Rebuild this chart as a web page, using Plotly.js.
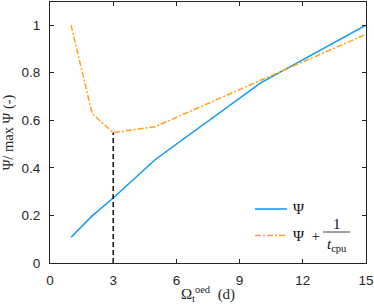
<!DOCTYPE html>
<html>
<head>
<meta charset="utf-8">
<script src="https://cdn.plot.ly/plotly-3.0.1.min.js"></script>
<style>html,body{margin:0;padding:0;background:#fff;}#chart{width:374px;height:307px;}</style>
</head>
<body>
<div id="chart"></div>
<script>
// Data
const days = [1, 2, 3, 5, 10, 15];
const psiNorm = [0.108, 0.198, 0.273, 0.435, 0.757, 1.0];
const psiPlusCpu = [1.0, 0.628, 0.548, 0.573, 0.768, 0.961];
const optimumDay = 3;
const xTicks = [0, 3, 6, 9, 12, 15];
const yTicks = [0, 0.2, 0.4, 0.6, 0.8, 1];
const yTickLabels = ['0', '0.2', '0.4', '0.6', '0.8', '1'];

const blue = '#0d99ef';
const orange = '#ffa31a';
const serif = 'Liberation Serif, Times New Roman, serif';
const sans = 'Liberation Sans, Arial, sans-serif';

const optIdx = days.indexOf(optimumDay);

const traces = [
  {x: days, y: psiNorm, mode: 'lines', line: {color: blue, width: 1.5}, showlegend: false, hoverinfo: 'skip'},
  {x: days, y: psiPlusCpu, mode: 'lines', line: {color: orange, width: 1.5, dash: '6px,2px,2px,2px'}, showlegend: false, hoverinfo: 'skip'},
  {x: [optimumDay, optimumDay], y: [0, psiPlusCpu[optIdx]], mode: 'lines', line: {color: '#111', width: 1.5, dash: '5px,3px'}, showlegend: false, hoverinfo: 'skip'}
];

// legend drawn in pixel-like paper coords
const W = 374, H = 307, L = 50, R = 8, T = 2, B = 44;
const pw = W - L - R, ph = H - T - B;
const px = v => (v - L) / pw;
const py = v => (H - B - v) / ph;

const layout = {
  width: W, height: H,
  margin: {l: L, r: R, t: T, b: B, pad: 0},
  paper_bgcolor: '#fff', plot_bgcolor: '#fff',
  xaxis: {
    range: [0, 15], tickvals: xTicks, ticktext: xTicks.map(String),
    ticks: 'inside', ticklen: 4, tickcolor: '#262626', tickwidth: 1,
    showline: true, mirror: 'ticks', linecolor: '#262626', linewidth: 1,
    showgrid: false, zeroline: false, ticklabelstandoff: 5,
    tickfont: {family: sans, size: 13.5, color: '#262626'},
    title: {text: 'Ω<sub>t</sub><sup>oed</sup>  (d)', font: {family: serif, size: 15, color: '#262626'}, standoff: 1}
  },
  yaxis: {
    range: [0, 1.097], tickvals: yTicks, ticktext: yTickLabels,
    ticks: 'inside', ticklen: 4, tickcolor: '#262626', tickwidth: 1,
    showline: true, mirror: 'ticks', linecolor: '#262626', linewidth: 1,
    showgrid: false, zeroline: false, ticklabelstandoff: 6,
    tickfont: {family: sans, size: 13.5, color: '#262626'},
    title: {text: 'Ψ/ max Ψ (-)', font: {family: serif, size: 14.5, color: '#262626'}, standoff: 4}
  },
  shapes: [
    {type: 'line', xref: 'paper', yref: 'paper', x0: px(255), x1: px(287), y0: py(209), y1: py(209), line: {color: blue, width: 1.5}},
    {type: 'line', xref: 'paper', yref: 'paper', x0: px(255), x1: px(287), y0: py(235.5), y1: py(235.5), line: {color: orange, width: 1.5, dash: '6px,2px,2px,2px'}},
    {type: 'line', xref: 'paper', yref: 'paper', x0: px(323), x1: px(350), y0: py(232), y1: py(232), line: {color: '#111', width: 0.8}}
  ],
  annotations: [
    {xref: 'paper', yref: 'paper', x: px(291), y: py(209), xanchor: 'left', yanchor: 'middle', text: 'Ψ', showarrow: false, font: {family: serif, size: 15, color: '#111'}},
    {xref: 'paper', yref: 'paper', x: px(291), y: py(235.5), xanchor: 'left', yanchor: 'middle', text: 'Ψ  +', showarrow: false, font: {family: serif, size: 15, color: '#111'}},
    {xref: 'paper', yref: 'paper', x: px(336.5), y: py(224), xanchor: 'center', yanchor: 'middle', text: '1', showarrow: false, font: {family: serif, size: 15, color: '#111'}},
    {xref: 'paper', yref: 'paper', x: px(337), y: py(245), xanchor: 'center', yanchor: 'middle', text: '<i>t</i><sub>cpu</sub>', showarrow: false, font: {family: serif, size: 15, color: '#111'}}
  ]
};

Plotly.newPlot('chart', traces, layout, {staticPlot: true, displayModeBar: false});
</script>
</body>
</html>
